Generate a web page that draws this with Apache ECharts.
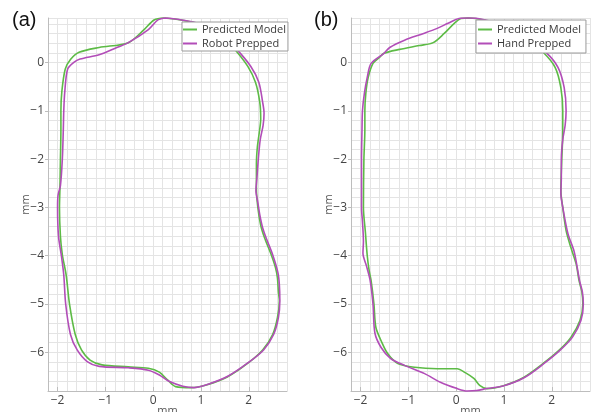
<!doctype html>
<html>
<head>
<meta charset="utf-8">
<title>Prep outline comparison</title>
<script src="https://cdn.jsdelivr.net/npm/echarts@6/dist/echarts.min.js"></script>
<style>html,body{margin:0;padding:0;background:#fff}</style>
</head>
<body>
<div id="chart" style="width:592px;height:412px;"></div>
<script type="text/javascript">

// panel text
var panelLabels = ['(a)', '(b)'];
var legendA = ['Predicted Model', 'Robot Prepped'];
var legendB = ['Predicted Model', 'Hand Prepped'];
var axisName = 'mm';
var xRange = [-2.2, 2.8];
var yRange = [-6.8, 0.92];

// outlines, [x mm, y mm], traced clockwise from the top
var modelA = [[0.23,0.92],[0.58,0.88],[0.95,0.80],[1.30,0.62],[1.55,0.42],[1.71,0.27],[1.98,-0.08],[2.14,-0.41],[2.23,-0.82],[2.25,-1.17],[2.22,-1.45],[2.18,-1.75],[2.16,-2.1],[2.16,-2.61],[2.19,-3.0],[2.25,-3.37],[2.33,-3.63],[2.47,-3.98],[2.56,-4.25],[2.60,-4.46],[2.62,-4.75],[2.64,-4.93],[2.60,-5.28],[2.50,-5.63],[2.29,-5.95],[1.96,-6.24],[1.55,-6.51],[1.13,-6.67],[0.80,-6.73],[0.47,-6.71],[0.30,-6.57],[0.13,-6.41],[-0.10,-6.33],[-0.52,-6.30],[-1.07,-6.26],[-1.32,-6.16],[-1.50,-5.95],[-1.63,-5.63],[-1.75,-5.0],[-1.82,-4.4],[-1.90,-3.98],[-1.94,-3.6],[-1.96,-3.0],[-1.95,-2.6],[-1.94,-2.0],[-1.93,-1.4],[-1.93,-1.0],[-1.91,-0.6],[-1.84,-0.14],[-1.73,0.06],[-1.55,0.21],[-1.13,0.31],[-0.52,0.41],[-0.19,0.68],[0.02,0.88],[0.23,0.92]];
var robotA = [[0.27,0.92],[0.60,0.88],[0.97,0.80],[1.33,0.62],[1.58,0.42],[1.75,0.27],[2.04,-0.08],[2.21,-0.41],[2.29,-0.82],[2.32,-1.05],[2.30,-1.3],[2.24,-1.6],[2.20,-2.0],[2.17,-2.4],[2.15,-2.65],[2.19,-2.9],[2.23,-3.15],[2.29,-3.42],[2.37,-3.65],[2.50,-3.98],[2.61,-4.35],[2.64,-4.6],[2.65,-4.93],[2.62,-5.28],[2.52,-5.63],[2.31,-5.95],[1.98,-6.22],[1.57,-6.49],[1.15,-6.66],[0.85,-6.73],[0.62,-6.70],[0.33,-6.60],[0.13,-6.47],[-0.10,-6.37],[-0.52,-6.32],[-1.13,-6.29],[-1.38,-6.19],[-1.59,-5.95],[-1.73,-5.63],[-1.83,-5.0],[-1.87,-4.4],[-1.92,-4.0],[-1.98,-3.6],[-2.0,-3.0],[-1.99,-2.75],[-1.94,-2.55],[-1.90,-2.0],[-1.88,-1.4],[-1.87,-1.0],[-1.85,-0.62],[-1.79,-0.14],[-1.66,0.0],[-1.53,0.07],[-1.13,0.16],[-0.76,0.31],[-0.52,0.41],[-0.10,0.68],[0.10,0.88],[0.27,0.92]];
var modelB = [[0.25,0.92],[0.41,0.91],[0.80,0.82],[1.20,0.62],[1.55,0.42],[1.82,0.21],[2.07,-0.10],[2.19,-0.52],[2.23,-1.0],[2.23,-1.45],[2.21,-2.0],[2.19,-2.65],[2.23,-3.0],[2.30,-3.48],[2.40,-3.83],[2.51,-4.17],[2.57,-4.51],[2.63,-4.75],[2.65,-5.0],[2.59,-5.34],[2.40,-5.69],[2.15,-5.96],[1.82,-6.23],[1.41,-6.52],[0.99,-6.69],[0.64,-6.75],[0.50,-6.69],[0.37,-6.54],[0.19,-6.42],[0.02,-6.34],[-0.39,-6.34],[-0.87,-6.31],[-1.22,-6.23],[-1.43,-6.03],[-1.57,-5.76],[-1.68,-5.48],[-1.72,-5.0],[-1.78,-4.51],[-1.82,-4.31],[-1.86,-4.0],[-1.90,-3.5],[-1.94,-3.0],[-1.93,-2.0],[-1.91,-1.4],[-1.91,-1.0],[-1.89,-0.64],[-1.84,-0.31],[-1.74,-0.02],[-1.61,0.10],[-1.51,0.19],[-1.18,0.27],[-0.77,0.35],[-0.48,0.41],[-0.25,0.60],[-0.04,0.81],[0.10,0.91],[0.25,0.92]];
var handB = [[0.25,0.92],[0.45,0.91],[0.82,0.82],[1.22,0.62],[1.58,0.42],[1.88,0.21],[2.13,-0.10],[2.26,-0.52],[2.30,-1.0],[2.28,-1.3],[2.23,-1.6],[2.20,-2.0],[2.20,-2.4],[2.19,-2.7],[2.24,-3.05],[2.34,-3.55],[2.47,-3.92],[2.58,-4.51],[2.64,-4.75],[2.66,-5.0],[2.61,-5.34],[2.43,-5.69],[2.17,-5.96],[1.84,-6.23],[1.43,-6.52],[1.00,-6.69],[0.64,-6.75],[0.43,-6.79],[0.23,-6.80],[0.02,-6.75],[-0.33,-6.62],[-0.66,-6.44],[-1.08,-6.27],[-1.37,-6.13],[-1.57,-5.9],[-1.70,-5.6],[-1.74,-5.0],[-1.80,-4.51],[-1.88,-4.2],[-1.95,-3.95],[-1.94,-3.7],[-1.96,-3.3],[-1.98,-3.0],[-1.98,-2.0],[-1.97,-1.4],[-1.96,-1.0],[-1.92,-0.64],[-1.86,-0.31],[-1.78,-0.02],[-1.51,0.19],[-1.39,0.31],[-1.08,0.46],[-0.68,0.60],[-0.41,0.70],[-0.17,0.81],[0.06,0.91],[0.25,0.92]];

var green = '#5dbb46';
var purple = '#b24db8';
var font = 'Open Sans';

function tickText(v) {
    if (Math.abs(v - Math.round(v)) > 1e-6) return '';
    v = Math.round(v);
    return v < 0 ? '\u2212' + (-v) : String(v);
}

var grids = [
    {left: 48, top: 18, width: 239, height: 373, outerBoundsMode: 'none'},
    {left: 351, top: 18, width: 239, height: 373, outerBoundsMode: 'none'}
];

var xAxes = [], yAxes = [];
for (var i = 0; i < 2; i++) {
    // fine 0.2 grid
    xAxes.push({
        type: 'value', gridIndex: i, min: xRange[0], max: xRange[1], interval: 0.2,
        axisLine: {show: false, onZero: false}, axisTick: {show: false}, axisLabel: {show: false},
        splitLine: {show: true, lineStyle: {color: '#e4e4e4', width: 1}}
    });
    yAxes.push({
        type: 'value', gridIndex: i, min: yRange[0], max: yRange[1], interval: 0.2,
        axisLine: {show: false, onZero: false}, axisTick: {show: false}, axisLabel: {show: false},
        splitLine: {show: true, lineStyle: {color: '#e4e4e4', width: 1}}
    });
    // labelled axes, whole mm
    xAxes.push({
        type: 'value', gridIndex: i, min: xRange[0], max: xRange[1],
        minInterval: 1, maxInterval: 1, splitNumber: 5, position: 'bottom',
        name: axisName, nameLocation: 'middle', nameGap: 14, nameMoveOverlap: false,
        nameTextStyle: {fontFamily: font, fontSize: 11, color: '#555'},
        axisLine: {show: true, onZero: false, lineStyle: {color: '#bdbdbd'}},
        axisTick: {show: true, inside: true, length: 4, lineStyle: {color: '#bdbdbd'}},
        axisLabel: {formatter: tickText, margin: 4, fontFamily: font, fontSize: 12, color: '#444',
            showMinLabel: false, showMaxLabel: false},
        splitLine: {show: false}
    });
    yAxes.push({
        type: 'value', gridIndex: i, min: yRange[0], max: yRange[1],
        minInterval: 1, maxInterval: 1, splitNumber: 8, position: 'left',
        name: axisName, nameLocation: 'middle', nameGap: 17, nameMoveOverlap: false,
        nameTextStyle: {fontFamily: font, fontSize: 11, color: '#555'},
        axisLine: {show: true, onZero: false, lineStyle: {color: '#bdbdbd'}},
        axisTick: {show: true, inside: false, length: 3, lineStyle: {color: '#bdbdbd'}},
        axisLabel: {formatter: tickText, margin: 4, fontFamily: font, fontSize: 12, color: '#444',
            showMinLabel: false, showMaxLabel: false},
        splitLine: {show: false}
    });
}

function outline(name, data, color, panel) {
    return {
        name: name, type: 'line', data: data,
        xAxisIndex: panel * 2 + 1, yAxisIndex: panel * 2 + 1,
        smooth: 0.3, symbol: 'none', clip: false,
        lineStyle: {color: color, width: 1.6},
        itemStyle: {color: color}
    };
}

function legendBox(names, left, top, pad) {
    return {
        orient: 'vertical', left: left, top: top, data: names,
        icon: 'rect', itemWidth: 14, itemHeight: 2, itemGap: 3, padding: pad,
        borderColor: '#9a9a9a', borderWidth: 1, borderRadius: 0, backgroundColor: '#fff',
        textStyle: {fontFamily: font, fontSize: 11, color: '#3a3a3a'}
    };
}

var myChart = echarts.init(document.getElementById('chart'), null, {renderer: 'canvas'});
myChart.setOption({
    backgroundColor: '#fff',
    animation: false,
    grid: grids,
    xAxis: xAxes,
    yAxis: yAxes,
    legend: [
        legendBox(legendA, 182, 22, [2, 2, 2, 1]),
        legendBox(legendB, 476, 20, [4, 5, 4, 2])
    ],
    graphic: [
        {type: 'text', left: 12, top: 10, style: {text: panelLabels[0], fontFamily: 'Liberation Sans', fontSize: 20, fill: '#111'}},
        {type: 'text', left: 314, top: 10, style: {text: panelLabels[1], fontFamily: 'Liberation Sans', fontSize: 20, fill: '#111'}}
    ],
    series: [
        outline(legendA[0], modelA, green, 0),
        outline(legendA[1], robotA, purple, 0),
        outline(legendB[0], modelB, green, 1),
        outline(legendB[1], handB, purple, 1)
    ]
});

</script>
</body>
</html>
